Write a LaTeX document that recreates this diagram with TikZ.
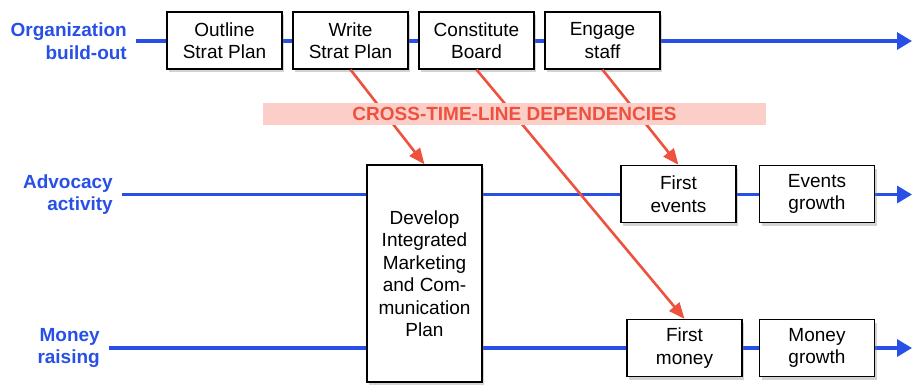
\documentclass[tikz,border=0pt]{standalone}
\usepackage{fontspec}
\setmainfont{Liberation Sans}
\usetikzlibrary{arrows.meta,shadows,backgrounds}

\definecolor{laneblue}{RGB}{40,80,230}
\definecolor{depred}{RGB}{238,82,62}
\definecolor{bandpink}{RGB}{252,206,200}

\tikzset{
  task/.style={draw=black, line width=1.3pt, fill=white, minimum width=115pt,
    minimum height=57pt, align=center, inner sep=0pt,
    font=\fontsize{19}{22.5}\selectfont,
    drop shadow={shadow xshift=2pt, shadow yshift=-3pt, opacity=0.35}},
  lanelbl/.style={anchor=east, align=right, inner xsep=9pt, inner ysep=0pt,
    text=laneblue, font=\fontsize{19}{22.5}\selectfont\bfseries},
  lane/.style={draw=laneblue, line width=3.3pt, -{Triangle[length=15pt,width=17pt]}},
  dep/.style={draw=depred, line width=2.6pt, -{Triangle[length=16pt,width=13pt]}},
  band/.style={fill=bandpink, minimum width=503pt, minimum height=22pt, inner sep=0pt,
    text=depred, font=\fontsize{19}{22}\selectfont\bfseries}
}

\begin{document}
\begin{tikzpicture}[x=1pt, y=-1pt]
  \useasboundingbox (0,0) rectangle (912,384);

  %%%%% lanes %%%%%
  \node[lanelbl] (orglbl) at (136,41) {Organization\\build-out};
  \node[lanelbl] (advlbl) at (122,194.5) {Advocacy\\activity};
  \node[lanelbl] (monlbl) at (109,348) {Money\\raising};
  \coordinate (orgend) at (912,41);
  \coordinate (advend) at (912,194.5);
  \coordinate (monend) at (912,348);

  %%%%% tasks %%%%%
  \node[task] (outline) at (224.5,40.5) {Outline\\Strat Plan};
  \node[task] (write) at (350.5,40.5) {Write\\Strat Plan};
  \node[task] (board) at (476.5,40.5) {Constitute\\Board};
  \node[task] (staff) at (602.5,40.5) {Engage\\staff};

  \node[task, minimum height=217pt] (imcp) at (424.5,273.5)
    {Develop\\Integrated\\Marketing\\and Com-\\munication\\Plan};

  \node[task] (firstev) at (678.5,194) {First\\events};
  \node[task] (evgrow) at (817,194) {Events\\growth};
  \node[task] (firstmon) at (684.5,348) {First\\money};
  \node[task] (mongrow) at (817,348) {Money\\growth};

  \begin{scope}[on background layer]
    \draw[lane] (orglbl.east) -- (orgend);
    \draw[lane] (advlbl.east) -- (advend);
    \draw[lane] (monlbl.east) -- (monend);
  \end{scope}

  %%%%% dependencies %%%%%
  \draw[dep] (write.south) -- (imcp.north);
  \draw[dep] (board.south) -- (firstmon.north);
  \draw[dep] (staff.south) -- (firstev.north);

  \node[band] (xdeps) at (514.5,114) {CROSS-TIME-LINE DEPENDENCIES};
\end{tikzpicture}
\end{document}
